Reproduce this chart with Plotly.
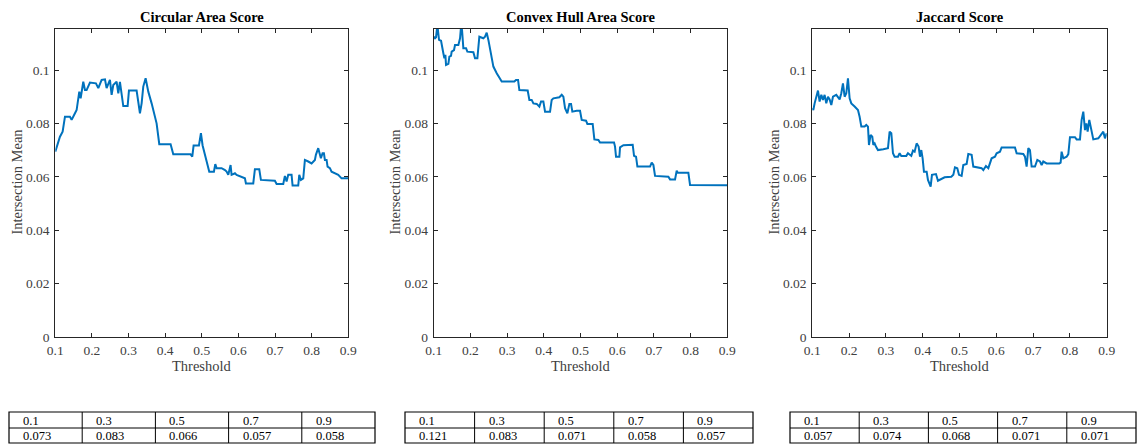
import plotly.graph_objects as go

# ---- threshold sweep results (x = threshold, y = intersection mean) ----
circular_x = [0.1000, 0.1127, 0.1200, 0.1264, 0.1400, 0.1446, 0.1537, 0.1582, 0.1655, 0.1692,
              0.1764, 0.1810, 0.1855, 0.1946, 0.2110, 0.2128, 0.2174, 0.2265, 0.2356, 0.2401,
              0.2492, 0.2538, 0.2583, 0.2674, 0.2720, 0.2765, 0.2811, 0.2856, 0.2975, 0.3011,
              0.3220, 0.3266, 0.3311, 0.3357, 0.3402, 0.3466, 0.3539, 0.3630, 0.3721, 0.3766,
              0.3839, 0.4148, 0.4221, 0.4694, 0.4740, 0.4776, 0.4922, 0.4976, 0.5022, 0.5076,
              0.5131, 0.5204, 0.5331, 0.5368, 0.5404, 0.5541, 0.5632, 0.5677, 0.5723, 0.5786,
              0.5813, 0.5905, 0.5950, 0.6087, 0.6177, 0.6205, 0.6405, 0.6450, 0.6569, 0.6614,
              0.6996, 0.7042, 0.7224, 0.7269, 0.7315, 0.7360, 0.7451, 0.7479, 0.7633, 0.7661,
              0.7706, 0.7770, 0.7815, 0.7906, 0.7997, 0.8088, 0.8115, 0.8179, 0.8225, 0.8252,
              0.8297, 0.8334, 0.8361, 0.8407, 0.8434, 0.8498, 0.8543, 0.8634, 0.8725, 0.8816,
              0.9000]
circular_y = [0.0695, 0.0751, 0.0770, 0.0826, 0.0826, 0.0814, 0.0839, 0.0851, 0.0920, 0.0895,
              0.0957, 0.0926, 0.0926, 0.0954, 0.0951, 0.0945, 0.0933, 0.0964, 0.0966, 0.0933,
              0.0964, 0.0908, 0.0945, 0.0957, 0.0914, 0.0957, 0.0914, 0.0866, 0.0866, 0.0924,
              0.0924, 0.0870, 0.0839, 0.0876, 0.0939, 0.0970, 0.0920, 0.0876, 0.0820, 0.0801,
              0.0723, 0.0723, 0.0685, 0.0685, 0.0676, 0.0718, 0.0718, 0.0764, 0.0718, 0.0689,
              0.0658, 0.0620, 0.0620, 0.0648, 0.0633, 0.0633, 0.0626, 0.0620, 0.0608, 0.0645,
              0.0608, 0.0614, 0.0608, 0.0601, 0.0595, 0.0576, 0.0576, 0.0629, 0.0629, 0.0589,
              0.0586, 0.0574, 0.0574, 0.0604, 0.0583, 0.0608, 0.0608, 0.0568, 0.0568, 0.0608,
              0.0589, 0.0595, 0.0664, 0.0658, 0.0651, 0.0664, 0.0683, 0.0708, 0.0686, 0.0670,
              0.0689, 0.0689, 0.0664, 0.0664, 0.0639, 0.0633, 0.0620, 0.0614, 0.0608, 0.0595,
              0.0595]

convex_x = [0.1000, 0.1036, 0.1064, 0.1100, 0.1145, 0.1200, 0.1263, 0.1291, 0.1318, 0.1336,
            0.1400, 0.1427, 0.1472, 0.1490, 0.1554, 0.1581, 0.1672, 0.1718, 0.1745, 0.1772,
            0.1808, 0.1881, 0.1917, 0.2081, 0.2126, 0.2190, 0.2244, 0.2353, 0.2399, 0.2444,
            0.2490, 0.2535, 0.2580, 0.2626, 0.2717, 0.2762, 0.2853, 0.3198, 0.3243, 0.3298,
            0.3334, 0.3561, 0.3607, 0.3670, 0.3716, 0.3807, 0.3879, 0.3925, 0.3988, 0.4034,
            0.4170, 0.4215, 0.4261, 0.4424, 0.4488, 0.4533, 0.4579, 0.4642, 0.4697, 0.4742,
            0.4778, 0.4896, 0.4987, 0.5033, 0.5151, 0.5187, 0.5332, 0.5378, 0.5487, 0.5532,
            0.5914, 0.5941, 0.5968, 0.6059, 0.6077, 0.6168, 0.6422, 0.6459, 0.6513, 0.6550,
            0.6895, 0.6940, 0.6986, 0.7031, 0.7394, 0.7440, 0.7576, 0.7621, 0.7649, 0.7939,
            0.7985, 0.9000]
convex_y = [0.1126, 0.1120, 0.1124, 0.1170, 0.1114, 0.1111, 0.1064, 0.1045, 0.1058, 0.1020,
            0.1024, 0.1051, 0.1054, 0.1070, 0.1076, 0.1095, 0.1095, 0.1120, 0.1164, 0.1151,
            0.1083, 0.1083, 0.1070, 0.1068, 0.1045, 0.1045, 0.1126, 0.1120, 0.1126, 0.1141,
            0.1114, 0.1076, 0.1051, 0.1014, 0.0989, 0.0979, 0.0958, 0.0958, 0.0964, 0.0964,
            0.0926, 0.0924, 0.0889, 0.0889, 0.0876, 0.0874, 0.0864, 0.0883, 0.0883, 0.0845,
            0.0845, 0.0889, 0.0895, 0.0899, 0.0908, 0.0901, 0.0858, 0.0839, 0.0874, 0.0874,
            0.0845, 0.0848, 0.0848, 0.0814, 0.0811, 0.0799, 0.0799, 0.0741, 0.0739, 0.0729,
            0.0729, 0.0714, 0.0676, 0.0676, 0.0711, 0.0719, 0.0721, 0.0679, 0.0676, 0.0639,
            0.0639, 0.0654, 0.0645, 0.0604, 0.0601, 0.0591, 0.0591, 0.0624, 0.0616, 0.0616,
            0.0570, 0.0569]

jaccard_x = [0.1000, 0.1027, 0.1063, 0.1109, 0.1154, 0.1199, 0.1245, 0.1290, 0.1335, 0.1380,
             0.1426, 0.1471, 0.1516, 0.1562, 0.1652, 0.1743, 0.1788, 0.1833, 0.1879, 0.1924,
             0.1969, 0.2014, 0.2060, 0.2150, 0.2196, 0.2241, 0.2286, 0.2332, 0.2422, 0.2467,
             0.2513, 0.2540, 0.2585, 0.2630, 0.2658, 0.2694, 0.2730, 0.2784, 0.2929, 0.3056,
             0.3101, 0.3147, 0.3192, 0.3237, 0.3328, 0.3373, 0.3418, 0.3554, 0.3600, 0.3690,
             0.3736, 0.3781, 0.3835, 0.3889, 0.3926, 0.3962, 0.3998, 0.4034, 0.4107, 0.4143,
             0.4216, 0.4252, 0.4361, 0.4415, 0.4596, 0.4777, 0.4832, 0.4877, 0.4940, 0.4986,
             0.5058, 0.5103, 0.5194, 0.5239, 0.5330, 0.5375, 0.5601, 0.5647, 0.5719, 0.5783,
             0.5873, 0.5964, 0.6009, 0.6100, 0.6145, 0.6507, 0.6553, 0.6734, 0.6779, 0.6824,
             0.6870, 0.6915, 0.6960, 0.7051, 0.7114, 0.7187, 0.7232, 0.7277, 0.7368, 0.7712,
             0.7748, 0.7775, 0.7821, 0.7911, 0.7957, 0.8002, 0.8138, 0.8183, 0.8274, 0.8319,
             0.8364, 0.8410, 0.8446, 0.8482, 0.8527, 0.8591, 0.8636, 0.8772, 0.8862, 0.8908,
             0.8953, 0.9000]
jaccard_y = [0.0858, 0.0851, 0.0876, 0.0901, 0.0924, 0.0883, 0.0908, 0.0889, 0.0908, 0.0876,
             0.0901, 0.0891, 0.0870, 0.0901, 0.0908, 0.0891, 0.0914, 0.0951, 0.0901, 0.0914,
             0.0970, 0.0895, 0.0876, 0.0864, 0.0858, 0.0851, 0.0826, 0.0789, 0.0789, 0.0795,
             0.0789, 0.0720, 0.0758, 0.0751, 0.0720, 0.0726, 0.0714, 0.0701, 0.0704, 0.0708,
             0.0770, 0.0764, 0.0689, 0.0676, 0.0676, 0.0689, 0.0679, 0.0679, 0.0689, 0.0679,
             0.0699, 0.0695, 0.0726, 0.0714, 0.0676, 0.0701, 0.0670, 0.0620, 0.0620, 0.0589,
             0.0564, 0.0608, 0.0611, 0.0586, 0.0599, 0.0601, 0.0608, 0.0636, 0.0633, 0.0608,
             0.0604, 0.0645, 0.0649, 0.0686, 0.0683, 0.0639, 0.0633, 0.0626, 0.0641, 0.0633,
             0.0670, 0.0676, 0.0689, 0.0695, 0.0711, 0.0711, 0.0689, 0.0686, 0.0676, 0.0639,
             0.0708, 0.0701, 0.0639, 0.0639, 0.0664, 0.0658, 0.0645, 0.0658, 0.0651, 0.0651,
             0.0654, 0.0695, 0.0670, 0.0676, 0.0686, 0.0749, 0.0749, 0.0741, 0.0741, 0.0814,
             0.0845, 0.0776, 0.0801, 0.0770, 0.0814, 0.0770, 0.0741, 0.0745, 0.0764, 0.0770,
             0.0745, 0.0764]

panel_titles = ["Circular Area Score", "Convex Hull Area Score", "Jaccard Score"]

x_ticks = [0.1, 0.2, 0.3, 0.4, 0.5, 0.6, 0.7, 0.8, 0.9]
x_tick_labels = ["0.1", "0.2", "0.3", "0.4", "0.5", "0.6", "0.7", "0.8", "0.9"]
y_ticks = [0, 0.02, 0.04, 0.06, 0.08, 0.1]
y_tick_labels = ["0", "0.02", "0.04", "0.06", "0.08", "0.1"]

# summary tables below each panel
table_thresholds = ["0.1", "0.3", "0.5", "0.7", "0.9"]
circular_table = ["0.073", "0.083", "0.066", "0.057", "0.058"]
convex_table = ["0.121", "0.083", "0.071", "0.058", "0.057"]
jaccard_table = ["0.057", "0.074", "0.068", "0.071", "0.071"]

# ---- layout constants (pixels in a 1141 x 444 canvas) ----
W, H = 1141, 444
LINE_BLUE = "#0072BD"
AXIS_GREY = "#262626"
SERIF = "Liberation Serif, Times New Roman, serif"
Y_MAX = 0.1156

panel_px = [(55.3, 348.3), (433.7, 727.3), (812.3, 1106.7)]
plot_top, plot_bottom = 28.7, 337.0
ylabel_x = [16.5, 394.5, 773.5]

table_px = [(9, 375), (405, 753), (790, 1136)]
table_rows = (412, 428, 443)
table_text_pad = 12


def px(x):
    return x / W


def py(y):
    return 1 - y / H


series = [(circular_x, circular_y, circular_table),
          (convex_x, convex_y, convex_table),
          (jaccard_x, jaccard_y, jaccard_table)]

fig = go.Figure()
layout = dict(
    width=W, height=H, autosize=False,
    margin=dict(l=0, r=0, t=0, b=0, pad=0, autoexpand=False),
    paper_bgcolor="white", plot_bgcolor="white",
    showlegend=False,
    font=dict(family=SERIF, color=AXIS_GREY),
)
annotations = []
shapes = []

for i, (xs, ys, tvals) in enumerate(series):
    n = "" if i == 0 else str(i + 1)
    fig.add_trace(go.Scatter(
        x=xs, y=ys, mode="lines",
        line=dict(color=LINE_BLUE, width=2),
        xaxis="x" + n, yaxis="y" + n,
    ))
    x0, x1 = panel_px[i]
    common = dict(
        showline=True, linecolor=AXIS_GREY, linewidth=1, mirror="ticks",
        ticks="inside", ticklen=4, tickcolor=AXIS_GREY, tickwidth=1,
        showgrid=False, zeroline=False, automargin=False,
        tickfont=dict(family=SERIF, size=13.5, color="#404040"),
    )
    layout["xaxis" + n] = dict(
        domain=[px(x0), px(x1)], range=[0.1, 0.9], anchor="y" + n,
        tickvals=x_ticks, ticktext=x_tick_labels, ticklabelstandoff=1, **common)
    layout["yaxis" + n] = dict(
        domain=[py(plot_bottom), py(plot_top)], range=[0, Y_MAX], anchor="x" + n,
        tickvals=y_ticks, ticktext=y_tick_labels, ticklabelstandoff=2, **common)

    cx = (x0 + x1) / 2
    annotations.append(dict(
        text="<b>" + panel_titles[i] + "</b>", x=px(cx), y=py(16.5),
        xref="paper", yref="paper", showarrow=False, xanchor="center", yanchor="middle",
        font=dict(family=SERIF, size=14.5, color="black")))
    annotations.append(dict(
        text="Threshold", x=px(cx), y=py(365.5),
        xref="paper", yref="paper", showarrow=False, xanchor="center", yanchor="middle",
        font=dict(family=SERIF, size=14.5, color="#404040")))
    annotations.append(dict(
        text="Intersection Mean", x=px(ylabel_x[i]), y=py(182),
        xref="paper", yref="paper", showarrow=False, xanchor="center", yanchor="middle",
        textangle=-90,
        font=dict(family=SERIF, size=14.5, color="#404040")))

    # table grid
    tx0, tx1 = table_px[i]
    r0, r1, r2 = table_rows
    shapes.append(dict(type="rect", xref="paper", yref="paper",
                       x0=px(tx0), x1=px(tx1), y0=py(r2), y1=py(r0),
                       line=dict(color="black", width=1.2)))
    shapes.append(dict(type="line", xref="paper", yref="paper",
                       x0=px(tx0), x1=px(tx1), y0=py(r1), y1=py(r1),
                       line=dict(color="black", width=1)))
    cw = (tx1 - tx0) / len(table_thresholds)
    for c in range(1, len(table_thresholds)):
        xc = tx0 + c * cw
        shapes.append(dict(type="line", xref="paper", yref="paper",
                           x0=px(xc), x1=px(xc), y0=py(r2), y1=py(r0),
                           line=dict(color="black", width=1)))
    for c, (th, v) in enumerate(zip(table_thresholds, tvals)):
        xl = tx0 + c * cw + table_text_pad
        for txt, yc in ((th, (r0 + r1) / 2), (v, (r1 + r2) / 2)):
            annotations.append(dict(
                text=txt, x=px(xl), y=py(yc + 0.5),
                xref="paper", yref="paper", showarrow=False,
                xanchor="left", yanchor="middle",
                font=dict(family=SERIF, size=12.5, color="black")))

layout["annotations"] = annotations
layout["shapes"] = shapes
fig.update_layout(**layout)

# the page body gets no default margin so the figure fills the window exactly
fig.write_html(
    "out.html",
    post_script="document.body.style.margin='0';document.body.style.overflow='hidden';",
)
